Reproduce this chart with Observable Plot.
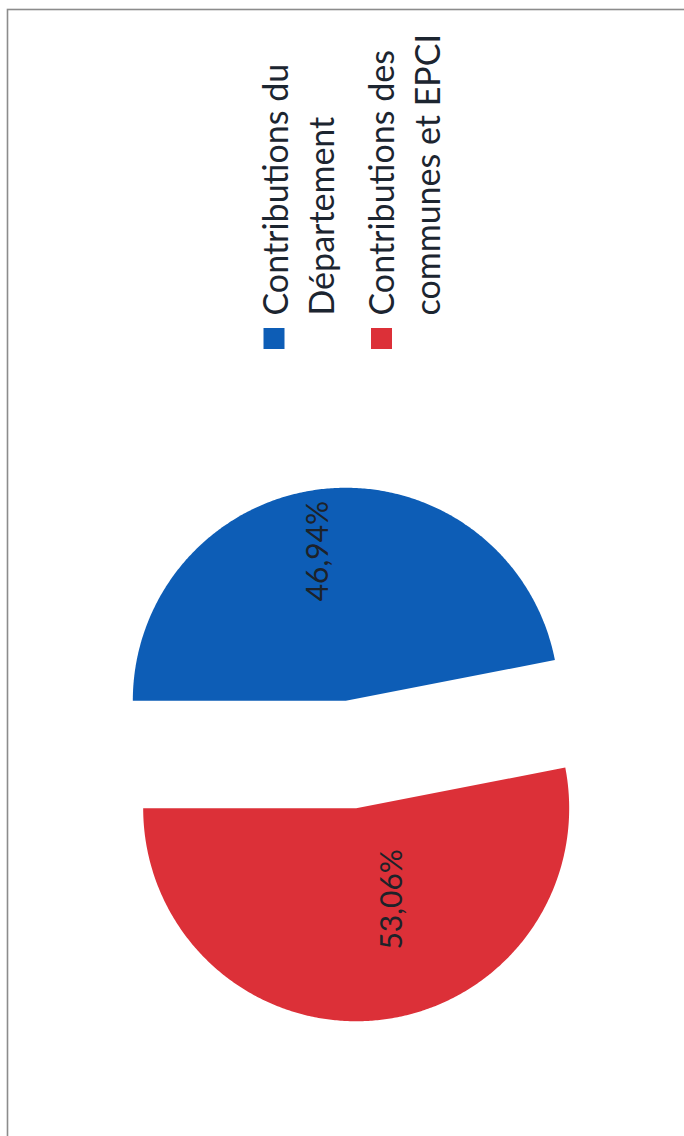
<!DOCTYPE html>
<html>
<head>
<meta charset="utf-8">
<script src="https://cdn.jsdelivr.net/npm/d3@7"></script>
<script src="https://cdn.jsdelivr.net/npm/@observablehq/plot@0.6"></script>
<style>
  html, body { margin: 0; padding: 0; background: #fff; overflow: hidden; }
  #chart svg { display: block; }
</style>
</head>
<body>
<div id="chart"></div>
<script>
// ---- data ----
const categories = ["Contributions du Département", "Contributions des communes et EPCI"];
const legendLines = [["Contributions du", "Département"], ["Contributions des", "communes et EPCI"]];
const shares = [46.94, 53.06];
const shareLabels = ["46,94%", "53,06%"];
const colors = ["#0d5db6", "#dc3038"];

// ---- layout (pixels) ----
const W = 684, H = 1136;
const cx = 350.5, cy = 754, R = 213, explodePx = 54;
const font = "Lato, 'Open Sans', sans-serif";
const legendFont = 34, labelFont = 30, legendLineHeight = 46;
const legendTextLeft = [255, 361], legendTextBottom = 315;
const swatchCenter = [[273.5, 338], [381, 338]], swatchSide = 21;
const labelPlacement = [{dAngle: -4.7, frac: 0.714}, {dAngle: -16.1, frac: 0.46}];

const ux = px => (px - cx) / R;
const uy = py => (py - cy) / R;
const e = explodePx / R;

// ---- pie geometry from values ----
const rows = categories.map((c, i) => ({name: c, share: shares[i], label: shareLabels[i], lines: legendLines[i]}));
const arcs = d3.pie().sort(null).value(d => d.share).startAngle(-Math.PI / 2).endAngle(1.5 * Math.PI)(rows);

const polyPoints = [];
const labelRows = [];
arcs.forEach((a, i) => {
  const mid = (a.startAngle + a.endAngle) / 2;
  const ox = Math.sin(mid) * e, oy = -Math.cos(mid) * e;
  polyPoints.push({name: a.data.name, x: ox, y: oy});
  const steps = Math.ceil((a.endAngle - a.startAngle) / (Math.PI / 360));
  for (let k = 0; k <= steps; k++) {
    const t = a.startAngle + (a.endAngle - a.startAngle) * k / steps;
    polyPoints.push({name: a.data.name, x: ox + Math.sin(t), y: oy - Math.cos(t)});
  }
  const p = labelPlacement[i];
  const la = mid + p.dAngle * Math.PI / 180;
  labelRows.push({name: a.data.name, label: a.data.label, x: ox + Math.sin(la) * p.frac, y: oy - Math.cos(la) * p.frac});
});

const legendRows = rows.map((d, i) => ({
  name: d.name,
  text: d.lines.join("\n"),
  tx: ux(legendTextLeft[i]), ty: uy(legendTextBottom),
  sx: ux(swatchCenter[i][0]), sy: uy(swatchCenter[i][1])
}));

const chart = Plot.plot({
  width: W,
  height: H,
  marginTop: 9,
  marginLeft: 7,
  marginRight: -20,
  marginBottom: -20,
  style: {fontFamily: font, background: "#fff"},
  x: {domain: [-1, 1], range: [cx - R, cx + R], axis: null},
  y: {domain: [-1, 1], range: [cy - R, cy + R], axis: null},
  color: {domain: categories, range: colors},
  marks: [
    Plot.frame({stroke: "#8c8c8c", strokeWidth: 1.6}),
    Plot.line(polyPoints, {x: "x", y: "y", z: "name", fill: "name", stroke: "none", curve: "linear-closed"}),
    Plot.text(labelRows, {x: "x", y: "y", text: "label", rotate: -90, textAnchor: "middle", lineAnchor: "middle",
      fontSize: labelFont, fontFamily: font, fill: "#1d2229"}),
    Plot.dot(legendRows, {x: "sx", y: "sy", fill: "name", symbol: "square", r: swatchSide / Math.sqrt(Math.PI), stroke: "none"}),
    Plot.text(legendRows, {x: "tx", y: "ty", text: "text", rotate: -90, textAnchor: "start", lineAnchor: "top",
      lineHeight: legendLineHeight / legendFont, fontSize: legendFont, fontFamily: font, fill: "#1c2530"})
  ]
});
document.getElementById("chart").appendChild(chart);
</script>
</body>
</html>
